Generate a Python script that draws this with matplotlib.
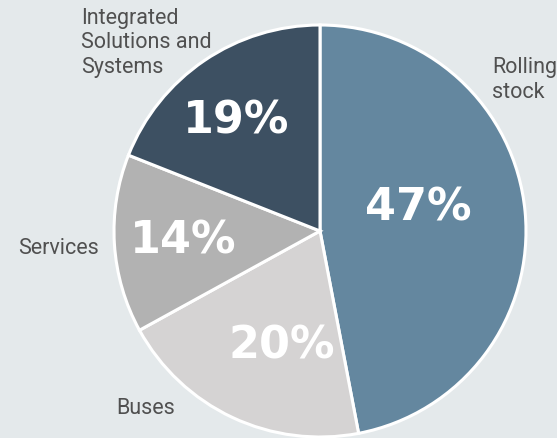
import matplotlib.pyplot as plt

segments = ["Rolling stock", "Buses", "Services", "Integrated Solutions and Systems"]
shares = [47, 20, 14, 19]
colors = ["#64879f", "#d5d3d3", "#b2b2b2", "#3d5062"]
label_texts = ["Rolling\nstock", "Buses", "Services", "Integrated\nSolutions and\nSystems"]

bg = "#e4e9eb"
W, H = 557, 438

fig = plt.figure(figsize=(W / 100, H / 100), dpi=100, facecolor=bg)
ax = fig.add_axes([0, 0, 1, 1])
ax.set_facecolor(bg)

# pie in pixel-like coords (y up)
ax.pie(shares, colors=colors, startangle=90, counterclock=False,
       center=(320, H - 231), radius=206,
       wedgeprops=dict(edgecolor="white", linewidth=2.2),
       frame=True)
ax.set_xlim(0, W)
ax.set_ylim(0, H)
ax.set_axis_off()

# percentage labels inside slices
pct_pos = [(418, 208), (282, 346), (183, 241), (236, 121)]
for (x, y), v in zip(pct_pos, shares):
    ax.text(x, H - y, f"{v}%", ha="center", va="center", color="white",
            fontsize=32, fontweight="bold", family="DejaVu Sans")

# category labels outside
lab_pos = [(492, 80), (116, 408), (18, 249), (81, 43)]
for (x, y), t in zip(lab_pos, label_texts):
    ax.text(x, H - y, t, ha="left", va="center", color="#505050",
            fontsize=15.5, family="Roboto", linespacing=1.2)

fig.savefig("out.png", dpi=100, facecolor=bg)
